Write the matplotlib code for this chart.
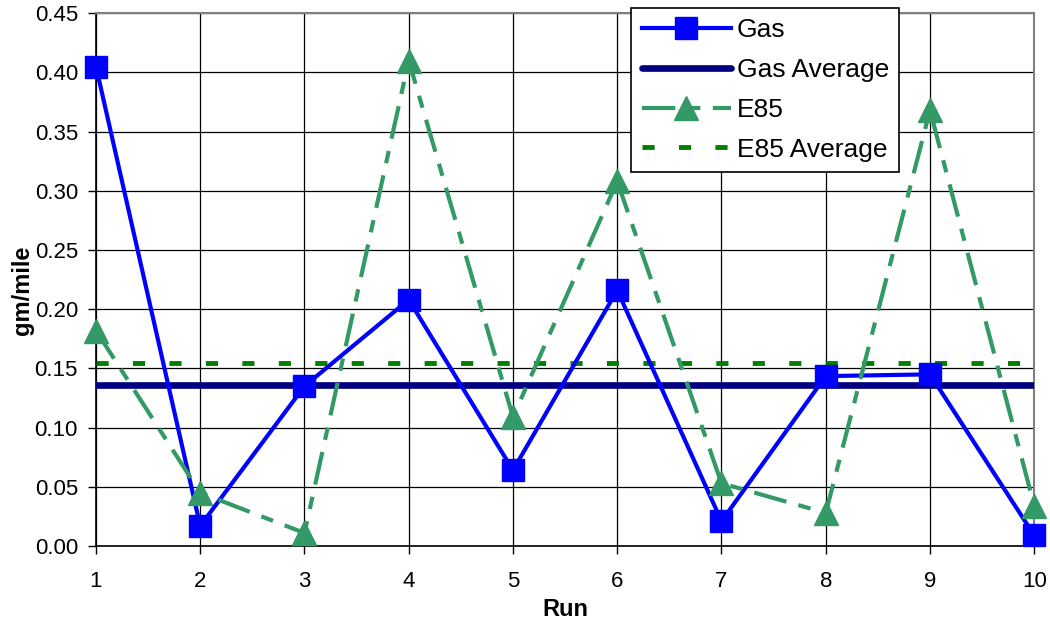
import numpy as np
import matplotlib.pyplot as plt

plt.rcParams['font.family'] = ['Liberation Sans', 'DejaVu Sans']

# emission per run, gm/mile
runs = [1, 2, 3, 4, 5, 6, 7, 8, 9, 10]
gas = [0.405, 0.017, 0.135, 0.208, 0.064, 0.216, 0.021, 0.1435, 0.145, 0.009]
e85 = [0.182, 0.045, 0.011, 0.410, 0.109, 0.308, 0.053, 0.028, 0.368, 0.034]

gas_avg = np.mean(gas)
e85_avg = np.mean(e85)

fig = plt.figure(figsize=(10.5, 6.3), dpi=100)
ax = fig.add_axes([0.0914, 0.1333, 0.8936, 0.8457])

ax.plot(runs, gas, color='#0000FF', lw=3, marker='s', markersize=16.5,
        label='Gas', zorder=5, clip_on=False)
ax.plot(runs, [gas_avg] * len(runs), color='#000080', lw=4.8,
        solid_capstyle='round', label='Gas Average', zorder=4)
ax.plot(runs, e85, color='#339966', lw=3, marker='^', markersize=17,
        linestyle=(0, (8, 3, 3, 3)), label='E85', zorder=6, clip_on=False)
ax.plot(runs, [e85_avg] * len(runs), color='#008000', lw=3.5,
        linestyle=(0, (2.5, 5)), label='E85 Average', zorder=3)

ax.set_xlim(1, 10)
ax.set_ylim(0, 0.45)
ax.set_xticks(runs)
ax.set_yticks(np.arange(0, 0.451, 0.05))
ax.set_yticklabels([f'{v:.2f}' for v in np.arange(0, 0.451, 0.05)])
ax.tick_params(labelsize=16, direction='out', length=6, width=1, color='black')
ax.tick_params(axis='y', pad=7)
ax.tick_params(axis='x', pad=12)
ax.grid(True, color='black', lw=0.9)
ax.set_axisbelow(True)

for side in ['top', 'right']:
    ax.spines[side].set_color('#808080')
    ax.spines[side].set_linewidth(1.5)
for side in ['left', 'bottom']:
    ax.spines[side].set_linewidth(1.2)

ax.set_xlabel('Run', fontsize=17, fontweight='bold')
ax.set_ylabel('gm/mile', fontsize=17, fontweight='bold')
ax.xaxis.set_label_coords(0.5, -0.098)
ax.yaxis.set_label_coords(-0.066, 0.48)

leg = ax.legend(loc='upper left', bbox_to_anchor=(0.601, 0.988),
                bbox_transform=fig.transFigure, fontsize=19,
                frameon=True, fancybox=False, edgecolor='black',
                framealpha=1, handlelength=3.4, labelspacing=0.6,
                borderpad=0.4, handletextpad=0.2, borderaxespad=0)
leg.get_frame().set_linewidth(1.2)
leg.set_zorder(10)

fig.savefig('out.png', dpi=100)
